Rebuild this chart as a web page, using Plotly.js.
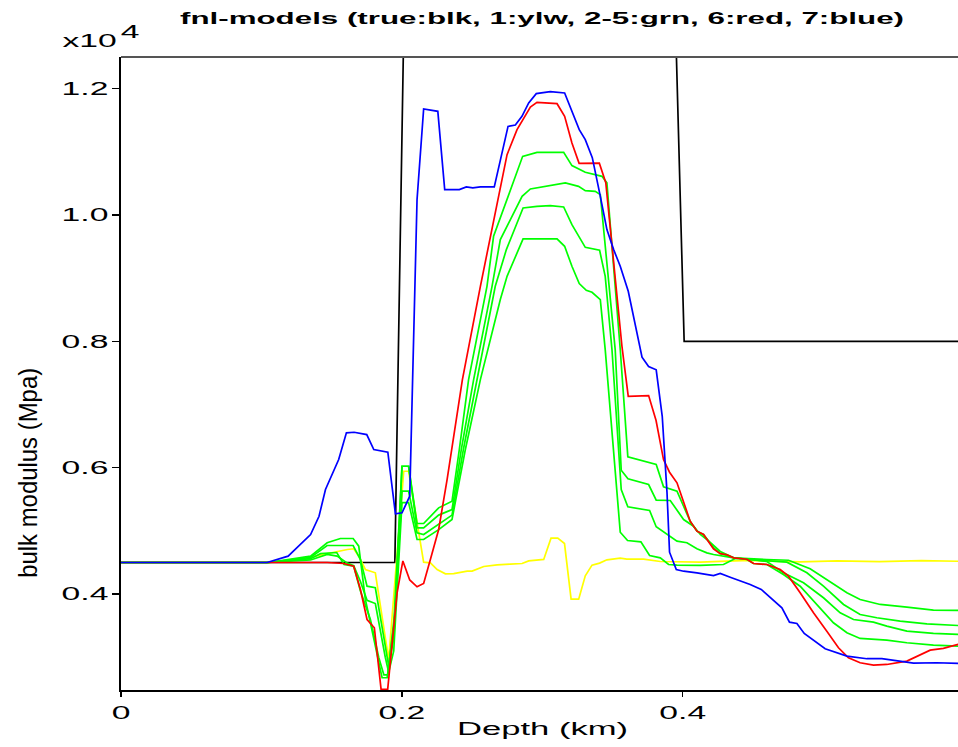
<!DOCTYPE html>
<html>
<head>
<meta charset="utf-8">
<script src="https://cdn.plot.ly/plotly-3.0.1.min.js"></script>
<style>
  html, body { margin: 0; padding: 0; background: #fff; }
  #chart { width: 958px; height: 747px; }
</style>
</head>
<body>
<div id="chart"></div>
<script>
// Depth (km) / bulk modulus (MPa) profiles of the final models.
const depthTrue = [0, 0.195, 0.201, 0.3955, 0.401, 0.596];
const modTrue   = [4500, 4500, 12500, 12500, 8000, 8000];

// model 1 (yellow)
const depthYlw = [0,0.105,0.13,0.1495,0.1612,0.1657,0.1693,0.174,0.1811,0.1906,0.2013,0.2048,0.2155,0.2203,0.2251,0.231,0.2369,0.2465,0.25,0.2583,0.2678,0.2772,0.2856,0.2903,0.301,0.3062,0.311,0.3158,0.3205,0.3259,0.3306,0.3354,0.3408,0.346,0.3555,0.3602,0.3721,0.384,0.4125,0.4315,0.448,0.4836,0.51,0.54,0.57,0.5961];
const modYlw   = [4500,4500,4560,4653,4706,4717,4600,4390,4337,2965,5944,5944,4505,4495,4389,4320,4325,4363,4363,4436,4462,4474,4484,4526,4548,4885,4885,4800,3919,3919,4290,4458,4490,4542,4568,4552,4552,4516,4505,4521,4532,4511,4525,4515,4528,4520];

// models 2-5 (green)
const depthG2 = [0,0.105,0.135,0.1468,0.1539,0.1612,0.1657,0.1705,0.1752,0.1811,0.1882,0.1906,0.1942,0.2001,0.2048,0.2108,0.2155,0.2262,0.2357,0.2452,0.2559,0.2701,0.2749,0.2863,0.2962,0.3105,0.3159,0.3211,0.3263,0.3313,0.3354,0.3413,0.3448,0.3555,0.3607,0.3702,0.3764,0.384,0.3899,0.3959,0.4125,0.429,0.4374,0.448,0.4742,0.4884,0.5002,0.5145,0.5263,0.5382,0.5548,0.5738,0.5961];
const modG2   = [4500,4500,4540,4627,4600,4490,4450,4200,3900,3850,3000,2760,3100,5449,5449,4864,4864,5020,5180,6288,7395,8661,9029,9621,9621,9621,9504,9188,8914,8808,8776,8661,7870,4979,4848,4827,4611,4574,4468,4457,4453,4468,4563,4547,4505,4337,4125,3836,3677,3625,3571,3530,3503];

const depthG3 = [0,0.105,0.135,0.1421,0.1536,0.1588,0.1657,0.1705,0.1776,0.1835,0.1872,0.19,0.1954,0.2001,0.2048,0.2108,0.2155,0.2262,0.2357,0.2438,0.2535,0.2665,0.2744,0.2863,0.2962,0.3057,0.3152,0.3211,0.3306,0.3408,0.3448,0.3496,0.3562,0.3609,0.3764,0.3811,0.3959,0.403,0.4101,0.4172,0.4219,0.4362,0.4599,0.4753,0.4907,0.5026,0.5169,0.5263,0.5406,0.5596,0.5785,0.5961];
const modG3   = [4500,4500,4560,4640,4658,4468,4440,4050,3600,3000,2720,2720,3800,5628,5628,4970,4943,5100,5250,6288,7395,8871,9452,10111,10137,10148,10127,9847,9488,9441,9029,7870,5655,5381,5323,5065,4837,4812,4717,4653,4627,4574,4547,4536,4400,4231,4021,3915,3836,3793,3745,3741];

const depthG4 = [0,0.105,0.135,0.1468,0.1653,0.1705,0.1752,0.1811,0.187,0.1906,0.1942,0.2001,0.2048,0.2108,0.2155,0.2262,0.2357,0.2423,0.2511,0.2642,0.2701,0.2856,0.2915,0.3057,0.3164,0.3258,0.3306,0.3377,0.3413,0.3519,0.3562,0.361,0.3757,0.3811,0.3911,0.4006,0.4077,0.4125,0.4172,0.4267,0.4359,0.4599,0.4717,0.486,0.5002,0.5121,0.5216,0.5358,0.5453,0.5596,0.5785,0.5961];
const modG4   = [4500,4500,4580,4769,4769,4547,4125,4100,3334,2859,3300,6023,6023,5049,5049,5250,5338,6288,7395,8871,9610,10295,10412,10464,10507,10453,10385,10374,10322,7870,5960,5824,5734,5486,5481,5180,5074,4943,4864,4674,4579,4516,4337,4179,3942,3704,3598,3556,3492,3413,3377,3361];

const depthG5 = [0,0.105,0.135,0.1468,0.1562,0.1653,0.1693,0.174,0.1776,0.1823,0.1859,0.1895,0.1942,0.2001,0.2048,0.2108,0.2155,0.2262,0.2357,0.2409,0.2475,0.2606,0.2653,0.286,0.2962,0.3152,0.3211,0.3306,0.3389,0.3425,0.346,0.3555,0.3609,0.3811,0.3863,0.3959,0.4053,0.4101,0.4148,0.4219,0.4267,0.4362,0.4457,0.4504,0.4599,0.4717,0.4836,0.4955,0.5073,0.5169,0.5263,0.5453,0.5596,0.5785,0.5961];
const modG5   = [4500,4500,4600,4812,4880,4880,4758,3915,3546,3071,2676,2676,3492,6023,6023,5117,5117,5365,5470,6288,7395,8871,9662,10928,10991,10991,10781,10675,10622,10611,10507,7870,6172,6050,5698,5628,5153,4995,4943,4737,4642,4579,4547,4484,4468,4310,4125,3836,3546,3388,3298,3271,3230,3192,3176];

// model 6 (red)
const depthRed = [0,0.1468,0.1586,0.1657,0.1705,0.1752,0.1804,0.1823,0.1852,0.1899,0.1966,0.2007,0.2056,0.2108,0.2155,0.2203,0.2262,0.2322,0.2369,0.2431,0.2559,0.2653,0.2749,0.282,0.2915,0.2962,0.3105,0.3159,0.3211,0.3262,0.3406,0.3452,0.3507,0.3567,0.3612,0.3757,0.381,0.3863,0.3906,0.3959,0.4053,0.4101,0.4148,0.4219,0.4267,0.4315,0.4362,0.4457,0.4504,0.4599,0.4694,0.4753,0.4836,0.4931,0.5026,0.5109,0.518,0.5263,0.5358,0.5453,0.5596,0.569,0.5762,0.5856,0.5961];
const modRed   = [4500,4500,4484,4441,4073,3598,3467,3071,2491,2491,4021,4524,4223,4116,4168,4547,5022,5813,6498,7395,8871,9874,10955,11350,11709,11782,11761,11561,11140,10817,10820,10512,9241,7922,7131,7142,6746,6129,5929,5761,5153,4995,4943,4714,4639,4622,4574,4552,4484,4468,4389,4283,4021,3704,3413,3151,2992,2913,2875,2886,2939,3045,3113,3140,3203];

// model 7 (blue)
const depthBlue = [0,0.104,0.119,0.128,0.135,0.141,0.1456,0.155,0.1605,0.166,0.175,0.18,0.19,0.1954,0.2001,0.2056,0.2108,0.2155,0.2256,0.2305,0.2409,0.2459,0.2505,0.2559,0.2658,0.2756,0.2808,0.2855,0.2903,0.2957,0.3057,0.3159,0.3211,0.3263,0.3306,0.3356,0.3408,0.346,0.3508,0.3555,0.3612,0.371,0.3757,0.3811,0.3854,0.3888,0.3906,0.3954,0.4006,0.4101,0.4219,0.4267,0.4338,0.4421,0.448,0.4559,0.4635,0.4706,0.476,0.4813,0.4865,0.4943,0.5014,0.5169,0.5311,0.5418,0.5548,0.5643,0.5809,0.5961];
const modBlue   = [4500,4500,4600,4785,4943,5232,5655,6129,6552,6561,6525,6288,6245,5270,5286,5549,10243,11678,11640,10401,10401,10444,10428,10444,10444,11402,11424,11561,11773,11920,11951,11931,11640,11350,11192,10907,10349,9768,9452,9188,8792,7748,7601,7549,6814,5603,4663,4389,4362,4337,4294,4326,4267,4204,4152,4073,3915,3783,3556,3535,3377,3255,3135,3018,2977,2977,2934,2907,2913,2902];

const yTickVals  = [4000, 6000, 8000, 10000, 12000];
const yTickText  = ['0.4', '0.6', '0.8', '1.0', '1.2'];
const xTickVals  = [0, 0.2, 0.4];
const xTickText  = ['0', '0.2', '0.4'];

const FONT = 'Liberation Sans, Arial, sans-serif';

function line(x, y, color, width) {
  return { x: x, y: y, type: 'scatter', mode: 'lines',
           line: { color: color, width: width || 1.7 }, hoverinfo: 'skip' };
}

const traces = [
  line(depthTrue, modTrue, '#000000', 1.7),
  line(depthYlw, modYlw, '#ffff00'),
  line(depthG2, modG2, '#00ff00'),
  line(depthG3, modG3, '#00ff00'),
  line(depthG4, modG4, '#00ff00'),
  line(depthG5, modG5, '#00ff00'),
  line(depthRed, modRed, '#ff0000'),
  line(depthBlue, modBlue, '#0000ff')
];

const layout = {
  width: 958, height: 747,
  margin: { l: 121, r: 0, t: 57, b: 57 },
  paper_bgcolor: '#ffffff', plot_bgcolor: '#ffffff',
  showlegend: false,
  title: {
    text: 'fnl-models (true:blk, 1:ylw, 2-5:grn, 6:red, 7:blue)',
    font: { family: FONT, size: 16, weight: 'bold', color: '#000' },
    x: 542 / 958, xanchor: 'center', xref: 'container',
    y: 1 - 18 / 747, yanchor: 'middle', yref: 'container'
  },
  xaxis: {
    range: [0, 0.596], tickvals: xTickVals, ticktext: xTickText,
    ticks: 'outside', ticklen: 5, tickwidth: 1.5, tickcolor: '#000',
    showline: true, linecolor: '#000', linewidth: 2,
    showgrid: false, zeroline: false,
    tickfont: { family: FONT, size: 18, color: '#000' }
  },
  yaxis: {
    range: [2482, 12500], tickvals: yTickVals, ticktext: yTickText,
    ticks: 'outside', ticklen: 7, tickwidth: 1.5, tickcolor: '#000',
    showline: true, linecolor: '#000', linewidth: 2,
    showgrid: false, zeroline: false,
    tickfont: { family: FONT, size: 18, color: '#000' }
  },
  shapes: [
    { type: 'line', xref: 'paper', yref: 'paper', x0: 0, x1: 1, y0: 1, y1: 1,
      line: { color: '#555555', width: 2 } }
  ],
  annotations: [
    { text: 'bulk modulus (Mpa)', textangle: -90, showarrow: false,
      xref: 'paper', yref: 'paper', x: (28 - 121) / 837, y: (690 - 473) / 633,
      xanchor: 'center', yanchor: 'middle',
      font: { family: FONT, size: 26, color: '#000' } },
    { text: 'Depth (km)', showarrow: false,
      xref: 'paper', yref: 'paper', x: (542 - 121) / 837, y: (690 - 729) / 633,
      xanchor: 'center', yanchor: 'middle',
      font: { family: FONT, size: 18, color: '#000' } },
    { text: 'x10', showarrow: false,
      xref: 'paper', yref: 'paper', x: (89 - 121) / 837, y: (690 - 41) / 633,
      xanchor: 'center', yanchor: 'middle',
      font: { family: FONT, size: 18, color: '#000' } },
    { text: '4', showarrow: false,
      xref: 'paper', yref: 'paper', x: (130 - 121) / 837, y: (690 - 32) / 633,
      xanchor: 'center', yanchor: 'middle',
      font: { family: FONT, size: 18, color: '#000' } }
  ]
};

// Wide lettering: stretch a text element to a given length.
function setLength(el, target) {
  if (!el) return;
  el.setAttribute('textLength', target.toFixed(1));
  el.setAttribute('lengthAdjust', 'spacingAndGlyphs');
}
function widen(el, factor) {
  if (!el) return;
  const w = el.getComputedTextLength();
  if (w > 0) setLength(el, w * factor);
}

Plotly.newPlot('chart', traces, layout, { displayModeBar: false, staticPlot: true }).then(function (gd) {
  gd.querySelectorAll('.xtick text, .ytick text').forEach(function (t) { widen(t, 1.87); });
  setLength(gd.querySelector('.gtitle'), 724);
  const ann = gd.querySelectorAll('.annotation-text');
  setLength(ann[0], 210);
  setLength(ann[1], 171);
  widen(ann[2], 1.87);
  widen(ann[3], 1.87);
});
</script>
</body>
</html>
